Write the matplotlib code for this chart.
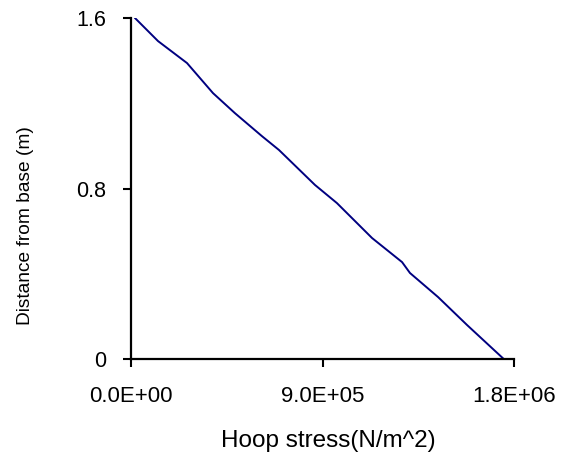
import matplotlib
matplotlib.use("Agg")
import matplotlib.pyplot as plt
from matplotlib.ticker import FixedLocator

plt.rcParams['font.family'] = ['Liberation Sans', 'DejaVu Sans']

# Data (hoop stress vs height)
hoop_stress = [0.02e6, 0.127e6, 0.263e6, 0.385e6, 0.488e6, 0.615e6, 0.695e6,
               0.864e6, 0.967e6, 1.132e6, 1.273e6, 1.310e6, 1.442e6, 1.578e6, 1.752e6]
distance = [1.6, 1.493, 1.390, 1.249, 1.155, 1.047, 0.982,
            0.818, 0.733, 0.569, 0.456, 0.405, 0.292, 0.161, 0.0]

x_ticks = [0.0, 9.0e5, 1.8e6]
x_tick_labels = ["0.0E+00", "9.0E+05", "1.8E+06"]
y_ticks = [0.0, 0.8, 1.6]
y_tick_labels = ["0", "0.8", "1.6"]

fig = plt.figure(figsize=(5.63, 4.57), dpi=100)
ax = fig.add_axes([131/563, 1-359.3/457, 383.3/563, 341/457])

ax.plot(hoop_stress, distance, color="#000080", linewidth=1.4, solid_joinstyle='round')

ax.set_xlim(0, 1.8e6)
ax.set_ylim(0, 1.6)
ax.xaxis.set_major_locator(FixedLocator(x_ticks))
ax.set_xticklabels(x_tick_labels)
ax.yaxis.set_major_locator(FixedLocator(y_ticks))
ax.set_yticklabels(y_tick_labels)

for s in ["top", "right"]:
    ax.spines[s].set_visible(False)
for s in ["left", "bottom"]:
    ax.spines[s].set_linewidth(1.6)
    ax.spines[s].set_clip_on(False)

ax.tick_params(axis="x", direction="out", length=6, width=1.5, pad=13, labelsize=16)
ax.tick_params(axis="y", direction="out", length=6, width=1.5, pad=12, labelsize=15.5)

ax.set_xlabel("Hoop stress(N/m^2)", fontsize=17.5)
ax.xaxis.label.set_va("center")
ax.xaxis.set_label_coords(0.514, -0.24)

ax.set_ylabel("Distance from base (m)", fontsize=13.8)
ax.yaxis.label.set_va("center")
ax.yaxis.set_label_coords(-0.275, 0.392)

fig.savefig("out.png", dpi=100)
